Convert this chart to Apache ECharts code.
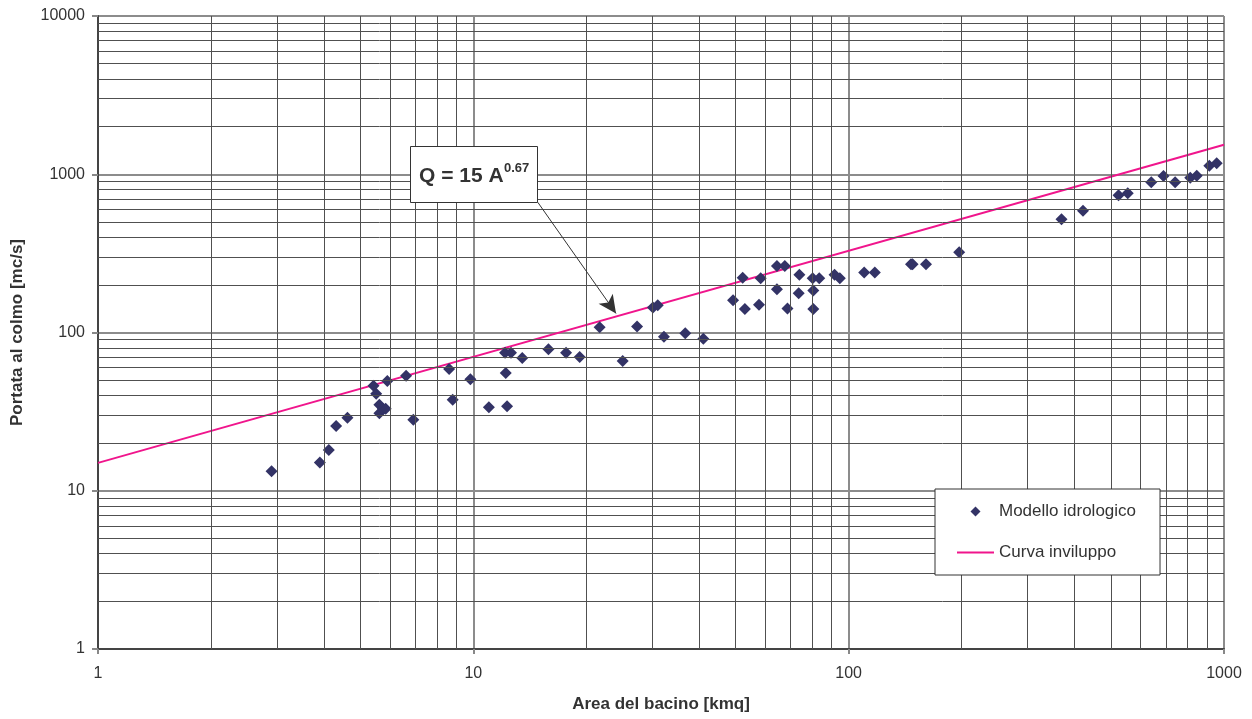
<!DOCTYPE html>
<html>
<head>
<meta charset="utf-8">
<script src="https://cdn.jsdelivr.net/npm/echarts@6/dist/echarts.min.js"></script>
<style>html,body{margin:0;padding:0;background:#fff;}#c{width:1252px;height:719px;}</style>
</head>
<body>
<div id="c"></div>
<script>
// ---- data ----
const areaKmq = [2.90, 3.90, 4.12, 4.31, 4.62, 5.42, 5.51, 5.62, 5.62, 5.74, 5.84, 5.90, 6.62, 6.92, 8.62, 8.81, 9.82,
  11.0, 12.3, 12.2, 12.15, 12.6, 13.5, 15.85, 17.66, 19.2, 21.7, 25.0, 27.3, 30.1, 31.0, 32.2, 36.7, 41.0,
  49.2, 52.2, 52.9, 57.7, 58.3, 64.4, 67.6, 64.4, 68.7, 73.9, 73.6, 80.2, 83.5, 80.5, 80.5, 91.7, 94.7,
  110, 117.4, 146.6, 148, 160.7, 197, 369, 421, 523.6, 554, 640, 690, 741, 813, 846, 914, 956];
const portataColmo = [13.3, 15.1, 18.1, 25.7, 28.9, 46.1, 41.0, 35.0, 30.9, 33.0, 33.0, 49.4, 53.3, 28.1, 58.8, 37.6, 50.6,
  33.7, 34.2, 55.5, 74.5, 74.5, 69, 78.3, 74.5, 70, 108, 66, 109, 144, 148.6, 94.1, 98.9, 91.4,
  160, 222, 141, 150, 220, 263, 263, 187.5, 142, 232, 177, 220, 220, 184, 141, 232, 220,
  239, 239, 270, 270, 270, 321, 519, 589, 736, 759, 889, 975, 889, 951, 979, 1132, 1173];
// envelope curve Q = 15 A^0.67, end values read at the plot edges
const curveArea = [1, 1000];
const curveQ = [15, 1535];
// annotation arrow ends (data coords)
const arrowFrom = [14.85, 665];
const arrowTo = [24.0, 132];
// axis ticks and grid lines
const xMajor = [1, 10, 100, 1000];
const yMajor = [1, 10, 100, 1000, 10000];
const xMinor = [2,3,4,5,6,7,8,9,20,30,40,50,60,70,80,90,200,300,400,500,600,700,800,900];
const yMinor = [2,3,4,5,6,7,8,9,20,30,40,50,60,70,80,90,200,300,400,500,600,700,800,900,2000,3000,4000,5000,6000,7000,8000,9000];

const FONT = "'Liberation Sans', Arial, sans-serif";
const chart = echarts.init(document.getElementById('c'), null, {renderer: 'canvas'});

const scatterData = areaKmq.map((a, i) => [a, portataColmo[i]]);
const curveData = curveArea.map((a, i) => [a, curveQ[i]]);

const minorLines = []
  .concat(xMinor.map(v => ({xAxis: v})))
  .concat(yMinor.map(v => ({yAxis: v})));

chart.setOption({
  animation: false,
  backgroundColor: '#fff',
  grid: {left: 98, top: 16, right: 28, bottom: 70},
  xAxis: {
    type: 'log', logBase: 10, min: 1, max: 1000,
    name: 'Area del bacino [kmq]', nameLocation: 'middle', nameGap: 47,
    nameTextStyle: {fontFamily: FONT, fontSize: 17, fontWeight: 'bold', color: '#333'},
    axisLine: {show: true, lineStyle: {color: '#444', width: 2}},
    axisTick: {show: true, length: 5, lineStyle: {color: '#888', width: 2}},
    axisLabel: {fontFamily: FONT, fontSize: 16, color: '#333', margin: 17,
      formatter: v => String(Math.round(v))},
    splitLine: {show: true, lineStyle: {color: '#8c8c8c', width: 2}},
    minorTick: {show: false}, minorSplitLine: {show: false}
  },
  yAxis: {
    type: 'log', logBase: 10, min: 1, max: 10000,
    name: 'Portata al colmo [mc/s]', nameLocation: 'middle', nameGap: 72,
    nameTextStyle: {fontFamily: FONT, fontSize: 17, fontWeight: 'bold', color: '#333'},
    axisLine: {show: true, lineStyle: {color: '#444', width: 2}},
    axisTick: {show: true, length: 6, lineStyle: {color: '#888', width: 2}},
    axisLabel: {fontFamily: FONT, fontSize: 16, color: '#333', margin: 13,
      formatter: v => String(Math.round(v))},
    splitLine: {show: true, lineStyle: {color: '#8c8c8c', width: 2}},
    minorTick: {show: false}, minorSplitLine: {show: false}
  },
  legend: {
    orient: 'vertical', left: 935, top: 489, z: 50,
    data: [
      {name: 'Modello idrologico', icon: 'path://M5,0L10,5L5,10L0,5Z'},
      {name: 'Curva inviluppo', itemStyle: {color: 'rgba(0,0,0,0)', borderWidth: 0}}
    ],
    symbolKeepAspect: true,
    itemWidth: 37, itemHeight: 10, itemGap: 24,
    padding: [14, 24, 14, 21],
    backgroundColor: '#fff', borderColor: '#333', borderWidth: 1, borderRadius: 0,
    textStyle: {fontFamily: FONT, fontSize: 17, color: '#333'},
    selectedMode: false
  },
  series: [
    {
      name: 'grid', type: 'line', data: [], silent: true, z: 0,
      markLine: {
        silent: true, symbol: ['none', 'none'], label: {show: false}, animation: false,
        lineStyle: {type: 'solid', color: '#505050', width: 1},
        emphasis: {disabled: true},
        data: minorLines
      }
    },
    {
      name: 'Curva inviluppo', type: 'line', data: curveData, z: 3,
      showSymbol: false, symbol: 'none',
      lineStyle: {color: '#f0158c', width: 2}, itemStyle: {color: '#f0158c'}
    },
    {
      name: 'Modello idrologico', type: 'scatter', data: scatterData, z: 4,
      symbol: 'diamond', symbolSize: 12,
      itemStyle: {color: '#333366', opacity: 1}
    },
    {
      name: 'arrow', type: 'line', data: [], silent: true, z: 5,
      markLine: {
        silent: true, symbol: ['none', 'arrow'], symbolSize: [13, 18], label: {show: false},
        lineStyle: {type: 'solid', color: '#333', width: 1},
        itemStyle: {color: '#333'},
        emphasis: {disabled: true},
        data: [[{coord: arrowFrom}, {coord: arrowTo}]]
      }
    }
  ],
  graphic: [
    {type: 'rect', left: 410, top: 146, z: 10,
      shape: {width: 127, height: 56},
      style: {fill: '#fff', stroke: '#333', lineWidth: 1}},
    {type: 'text', x: 419, y: 176, z: 11,
      style: {text: 'Q = 15 A', font: 'bold 21px ' + FONT, fill: '#333', verticalAlign: 'middle', align: 'left'}},
    {type: 'text', x: 504, y: 168, z: 11,
      style: {text: '0.67', font: 'bold 13px ' + FONT, fill: '#333', verticalAlign: 'middle', align: 'left'}}
  ]
});
</script>
</body>
</html>
